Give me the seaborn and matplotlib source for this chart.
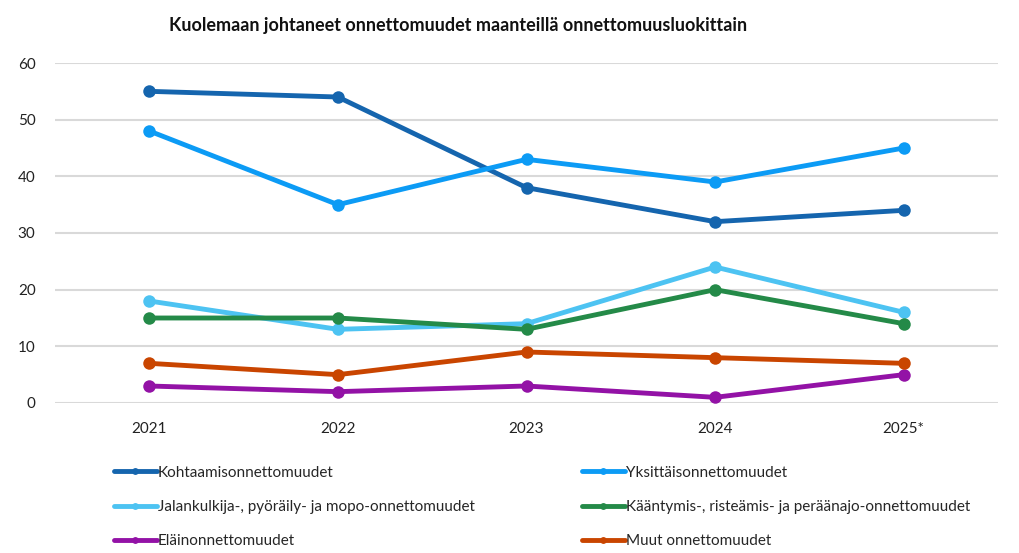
import matplotlib
matplotlib.use("Agg")
import matplotlib.pyplot as plt
import seaborn as sns
import pandas as pd

years = ["2021", "2022", "2023", "2024", "2025*"]
series_names = [
    "Kohtaamisonnettomuudet",
    "Yksittäisonnettomuudet",
    "Jalankulkija-, pyöräily- ja mopo-onnettomuudet",
    "Kääntymis-, risteämis- ja peräänajo-onnettomuudet",
    "Eläinonnettomuudet",
    "Muut onnettomuudet",
]
kohtaamis = [55, 54, 38, 32, 34]
yksittais = [48, 35, 43, 39, 45]
jalankulkija = [18, 13, 14, 24, 16]
kaantymis = [15, 15, 13, 20, 14]
elain = [3, 2, 3, 1, 5]
muut = [7, 5, 9, 8, 7]
values = [kohtaamis, yksittais, jalankulkija, kaantymis, elain, muut]
colors = ["#1565AE", "#0C9BF5", "#4DC3F2", "#248A48", "#9312A6", "#C94500"]
yticks = [0, 10, 20, 30, 40, 50, 60]

rows = []
for name, vals in zip(series_names, values):
    for i, (y, v) in enumerate(zip(years, vals)):
        rows.append({"x": i, "Vuosi": y, "Sarja": name, "Arvo": v})
df = pd.DataFrame(rows)

sns.set_theme(style="white")
plt.rcParams["font.family"] = ["Lato", "DejaVu Sans"]

fig = plt.figure(figsize=(10.2, 5.53), dpi=100)
ax = fig.add_axes([55 / 1020, 1 - 403 / 553, (998 - 55) / 1020, (403 - 63) / 553])

sns.lineplot(data=df, x="x", y="Arvo", hue="Sarja", hue_order=series_names,
             palette=colors, marker="o", markersize=9, markeredgewidth=0,
             linewidth=3.5, ax=ax, legend=True)

ax.set_xlim(-0.5, 4.5)
ax.set_ylim(0, 60)
ax.set_yticks(yticks)
ax.set_yticklabels([str(t) for t in yticks], fontsize=11, color="#222222")
ax.set_xticks(range(len(years)))
ax.set_xticklabels(years, fontsize=11, color="#222222")
ax.set_xlabel("")
ax.set_ylabel("")
ax.grid(axis="y", color="#D9D9D9", linewidth=1.5)
ax.set_axisbelow(True)
for s in ax.spines.values():
    s.set_visible(False)
ax.tick_params(axis="both", length=0, pad=14)

handles, labels = ax.get_legend_handles_labels()
ax.get_legend().remove()
order = [0, 2, 4, 1, 3, 5]
leg = fig.legend([handles[i] for i in order], [labels[i] for i in order],
                 loc="upper left", ncol=2,
                 bbox_to_anchor=(100 / 1020, 1 - 452 / 553), frameon=False,
                 fontsize=11, handlelength=2.8, handletextpad=0.1,
                 columnspacing=7.0, labelspacing=1.32, markerscale=0.55)

fig.text(458 / 1020, 1 - 26 / 553,
         "Kuolemaan johtaneet onnettomuudet maanteillä onnettomuusluokittain",
         ha="center", va="center", fontsize=13, fontweight="bold", color="#111111")

fig.savefig("out.png", dpi=100)
